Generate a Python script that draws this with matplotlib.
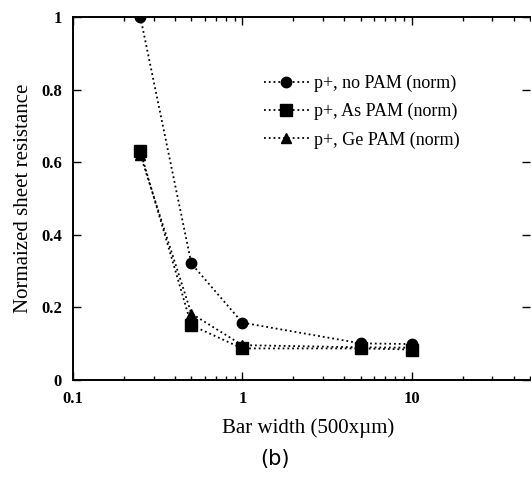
import matplotlib
matplotlib.use("Agg")
import matplotlib.pyplot as plt
from matplotlib.ticker import NullFormatter, LogLocator

bar_width = [0.25, 0.5, 1, 5, 10]
no_pam = [1.0, 0.321, 0.158, 0.101, 0.099]
as_pam = [0.630, 0.151, 0.087, 0.087, 0.084]
ge_pam = [0.620, 0.183, 0.096, 0.090, 0.089]
labels = ["p+, no PAM (norm)", "p+, As PAM (norm)", "p+, Ge PAM (norm)"]
yticks = [0, 0.2, 0.4, 0.6, 0.8, 1]
ytick_labels = ["0", "0.2", "0.4", "0.6", "0.8", "1"]
xticks = [0.1, 1, 10]
xtick_labels = ["0.1", "1", "10"]

plt.rcParams['font.family'] = ['Liberation Serif', 'DejaVu Serif']

fig = plt.figure(figsize=(5.31, 4.82), dpi=100)
ax = fig.add_axes([73 / 531, 1 - 380 / 482, (530 - 73) / 531, (380 - 17) / 482])

ax.plot(bar_width, no_pam, linestyle=':', color='black', lw=1.3, marker='o', ms=7.5, label=labels[0])
ax.plot(bar_width, as_pam, linestyle=':', color='black', lw=1.3, marker='s', ms=8, label=labels[1])
ax.plot(bar_width, ge_pam, linestyle=':', color='black', lw=1.3, marker='^', ms=7, label=labels[2])

ax.set_xscale('log')
ax.set_xlim(0.1, 50)
ax.set_ylim(0, 1)
ax.set_xticks(xticks)
ax.set_xticklabels(xtick_labels)
ax.xaxis.set_minor_locator(LogLocator(base=10, subs=[2, 3, 4, 5, 6, 7, 8, 9]))
ax.xaxis.set_minor_formatter(NullFormatter())
ax.set_yticks(yticks)
ax.set_yticklabels(ytick_labels)

ax.tick_params(which='both', direction='in', top=True, right=True, labelsize=12, width=1)
ax.tick_params(which='major', length=6, pad=8)
ax.tick_params(which='minor', length=3)
for s in ['left', 'bottom', 'top']:
    ax.spines[s].set_linewidth(1.4)
ax.spines['right'].set_visible(False)

for t in ax.get_xticklabels() + ax.get_yticklabels():
    t.set_fontweight('bold')

ax.set_ylabel("Normaized sheet resistance", fontsize=15, labelpad=6)
ax.set_xlabel("Bar width (500xµm)", fontsize=15)
ax.xaxis.set_label_coords(0.515, -0.105)

leg = ax.legend(loc='upper left', bbox_to_anchor=(0.382, 0.885), frameon=False,
                fontsize=13, handlelength=2.5, handletextpad=0.3, labelspacing=0.6)

fig.text(275 / 531, 0.035, "(b)", fontsize=15, family='DejaVu Sans', ha='center')

fig.savefig("out.png", dpi=100)
